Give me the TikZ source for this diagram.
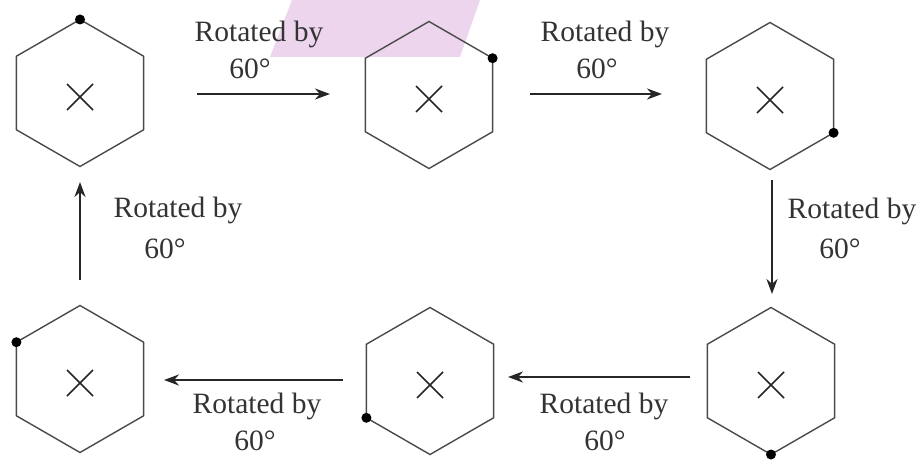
\documentclass[tikz,border=0pt]{standalone}
\usepackage{fontspec}
\setmainfont{Liberation Serif}
\usetikzlibrary{shapes.geometric,arrows.meta,calc}
\definecolor{pinkbg}{HTML}{EDD5EE}
\definecolor{hexline}{HTML}{4A4A4A}
\definecolor{txt}{HTML}{333333}
\tikzset{
  hexa/.style={regular polygon, regular polygon sides=6, shape border rotate=30,
    minimum size=147pt, inner sep=0pt, draw=hexline, line width=1.4pt},
  cross/.style={line width=1.7pt, draw=black!85},
  vdot/.style={circle, fill=black, inner sep=0pt, minimum size=10pt},
  arr/.style={line width=2.3pt, draw=black!85, -{Stealth[length=15pt,width=11pt]}},
  lbl/.style={anchor=base, text=txt, font=\fontsize{29.5}{34}\selectfont, inner sep=0pt},
}
\newcommand{\hexcross}[1]{%
  \draw[cross] ($(#1)+(-13,-9)$) -- ($(#1)+(13,17)$);
  \draw[cross] ($(#1)+(-13,17)$) -- ($(#1)+(13,-9)$);}
\begin{document}
\begin{tikzpicture}[x=1pt,y=-1pt]
\useasboundingbox (0,0) rectangle (919,460);
\fill[pinkbg] (270,57) -- (292,0) -- (480,0) -- (460,57) -- cycle;

% hexagons
\node[hexa] (h1) at (80,93) {};
\node[hexa] (h2) at (429,95) {};
\node[hexa] (h3) at (770,96) {};
\node[hexa] (h4) at (80,379) {};
\node[hexa] (h5) at (430,381) {};
\node[hexa] (h6) at (771,381) {};

\foreach \h in {h1,h2,h3,h4,h5,h6}{\hexcross{\h}}

% dots
\node[vdot] (d1) at ($(h1)+(0,-73.5)$) {};
\node[vdot] (d2) at ($(h2)+(63.6,-36.8)$) {};
\node[vdot] (d3) at ($(h3)+(63.6,36.8)$) {};
\node[vdot] (d6) at ($(h6)+(0,73.5)$) {};
\node[vdot] (d5) at ($(h5)+(-63.6,36.8)$) {};
\node[vdot] (d4) at ($(h4)+(-63.6,-36.8)$) {};

% arrow end points
\coordinate (a1s) at (197,94);  \coordinate (a1e) at (330,94);
\coordinate (a2s) at (530,94);  \coordinate (a2e) at (662,94);
\coordinate (a3s) at (772,180); \coordinate (a3e) at (772,294);
\coordinate (a4s) at (690,377); \coordinate (a4e) at (508,377);
\coordinate (a5s) at (343,380); \coordinate (a5e) at (164,380);
\coordinate (a6s) at (80,280);  \coordinate (a6e) at (80,182);

\draw[arr] (a1s) -- (a1e);
\draw[arr] (a2s) -- (a2e);
\draw[arr] (a3s) -- (a3e);
\draw[arr] (a4s) -- (a4e);
\draw[arr] (a5s) -- (a5e);
\draw[arr] (a6s) -- (a6e);

% labels
\node[lbl] (r1) at (259,42) {Rotated by};  \node[lbl] (n1) at (250,78) {60°};
\node[lbl] (r2) at (605,42) {Rotated by};  \node[lbl] (n2) at (597,78) {60°};
\node[lbl] (r3) at (852,218) {Rotated by}; \node[lbl] (n3) at (840,258) {60°};
\node[lbl] (r4) at (604,413) {Rotated by}; \node[lbl] (n4) at (605,450) {60°};
\node[lbl] (r5) at (257,413) {Rotated by}; \node[lbl] (n5) at (255,450) {60°};
\node[lbl] (r6) at (178,217) {Rotated by}; \node[lbl] (n6) at (165,258) {60°};
\end{tikzpicture}
\end{document}
